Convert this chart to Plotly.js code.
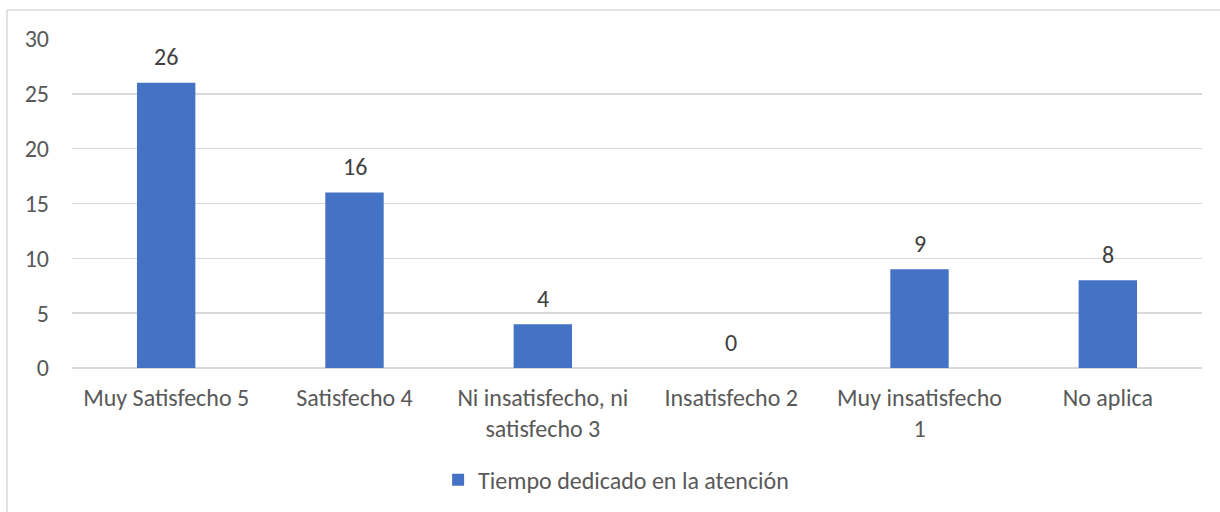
<!DOCTYPE html>
<html>
<head>
<meta charset="utf-8">
<script src="https://cdn.plot.ly/plotly-3.0.1.min.js"></script>
<style>
html,body{margin:0;padding:0;background:#fff;}
#chart{width:1220px;height:512px;}
</style>
</head>
<body>
<div id="chart"></div>
<script>
const categories = ["Muy Satisfecho 5", "Satisfecho 4", "Ni insatisfecho, ni<br>satisfecho 3", "Insatisfecho 2", "Muy insatisfecho<br>1", "No aplica"];
const values = [26, 16, 4, 0, 9, 8];
const seriesName = "Tiempo dedicado en la atención";
const yTicks = [0, 5, 10, 15, 20, 25, 30];

const FONT = "Carlito, Calibri, Lato, 'Open Sans', sans-serif";
const FS = 24;

const trace = {
  type: "bar",
  x: categories,
  y: values,
  name: seriesName,
  marker: {color: "#4472C4"},
  hoverinfo: "x+y"
};

const annotations = categories.map((c, i) => ({
  x: c, y: values[i], xref: "x", yref: "y",
  text: String(values[i]), showarrow: false,
  yanchor: "middle", yshift: 26,
  font: {family: FONT, size: FS, color: "#404040"}
}));

const layout = {
  width: 1220, height: 512,
  margin: {l: 72, r: 18, t: 39, b: 144, autoexpand: false},
  paper_bgcolor: "#fff", plot_bgcolor: "#fff",
  bargap: 0.69,
  font: {family: FONT, size: FS, color: "#595959"},
  showlegend: true,
  legend: {
    orientation: "h", x: 0.324, xanchor: "left", y: -0.341, yanchor: "middle",
    font: {family: FONT, size: FS, color: "#595959"}
  },
  xaxis: {
    type: "category", automargin: false,
    showgrid: false, showline: false, zeroline: false,
    ticks: "", ticklabelstandoff: 13,
    tickfont: {family: FONT, size: FS, color: "#595959"}
  },
  yaxis: {
    range: [0, 30], tickvals: yTicks, ticktext: yTicks.map(String), automargin: false,
    showgrid: true, gridcolor: "#d9d9d9", gridwidth: 1.5,
    zeroline: true, zerolinecolor: "#d9d9d9", zerolinewidth: 1.5,
    showline: false, ticks: "", ticklabelstandoff: 22,
    tickfont: {family: FONT, size: FS, color: "#595959"}
  },
  annotations: annotations,
  shapes: [
    {type: "line", xref: "paper", yref: "paper", x0: -0.0575, x1: 1.02, y0: 1.088, y1: 1.088,
     line: {color: "#d9d9d9", width: 1.5}},
    {type: "line", xref: "paper", yref: "paper", x0: -0.0575, x1: -0.0575, y0: 1.088, y1: -0.45,
     line: {color: "#d9d9d9", width: 1.5}}
  ]
};

Plotly.newPlot("chart", [trace], layout, {displayModeBar: false, staticPlot: true});
</script>
</body>
</html>
